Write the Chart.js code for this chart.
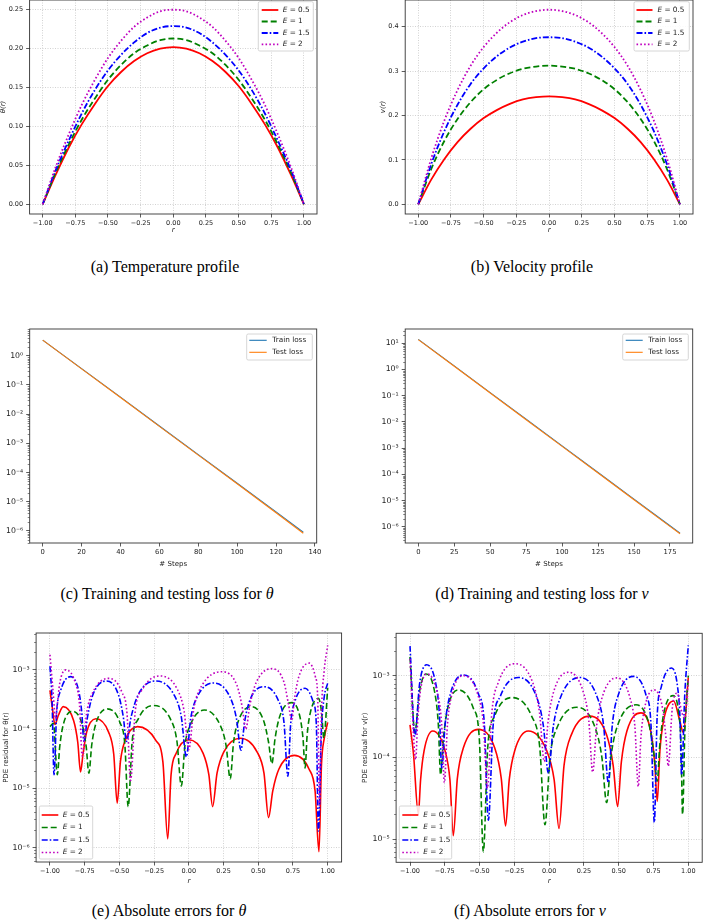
<!DOCTYPE html>
<html>
<head>
<meta charset="utf-8">
<script src="https://cdn.jsdelivr.net/npm/chart.js@4.4.1/dist/chart.umd.min.js"></script>
<style>
  body { margin: 0; background: #fff; width: 703px; height: 921px; position: relative; overflow: hidden; }
  canvas { position: absolute; }
  .cap { position: absolute; font-family: "Liberation Serif", "Times New Roman", serif; font-size: 16px; color: #000; white-space: nowrap; transform: translate(-50%, -50%); }
</style>
</head>
<body>
<canvas id="pa"></canvas>
<canvas id="pb"></canvas>
<canvas id="pc"></canvas>
<canvas id="pd"></canvas>
<canvas id="pe"></canvas>
<canvas id="pf"></canvas>
<div class="cap" style="left:165px;top:267px">(a) Temperature profile</div>
<div class="cap" style="left:532px;top:267px">(b) Velocity profile</div>
<div class="cap" style="left:167px;top:594px">(c) Training and testing loss for <i>θ</i></div>
<div class="cap" style="left:542px;top:594px">(d) Training and testing loss for <i>v</i></div>
<div class="cap" style="left:169px;top:911px">(e) Absolute errors for <i>θ</i></div>
<div class="cap" style="left:530px;top:911px">(f) Absolute errors for <i>v</i></div>
<script>
// ---- data ----
const rGrid = [-1, -0.9, -0.8, -0.7, -0.6, -0.5, -0.4, -0.3, -0.2, -0.1, 0, 0.1, 0.2, 0.3, 0.4, 0.5, 0.6, 0.7, 0.8, 0.9, 1];

const thetaE05 = [0, 0.038, 0.073, 0.103, 0.129, 0.152, 0.170, 0.184, 0.194, 0.200, 0.202, 0.200, 0.194, 0.184, 0.170, 0.152, 0.129, 0.103, 0.073, 0.038, 0];
const thetaE1 = [0, 0.041, 0.077, 0.109, 0.136, 0.160, 0.179, 0.194, 0.204, 0.211, 0.213, 0.211, 0.204, 0.194, 0.179, 0.160, 0.136, 0.109, 0.077, 0.041, 0];
const thetaE15 = [0, 0.044, 0.082, 0.117, 0.147, 0.172, 0.192, 0.208, 0.220, 0.227, 0.229, 0.227, 0.220, 0.208, 0.192, 0.172, 0.147, 0.117, 0.082, 0.044, 0];
const thetaE2 = [0, 0.048, 0.090, 0.128, 0.160, 0.188, 0.210, 0.228, 0.240, 0.248, 0.250, 0.248, 0.240, 0.228, 0.210, 0.188, 0.160, 0.128, 0.090, 0.048, 0];

const vE05 = [0, 0.056, 0.102, 0.140, 0.170, 0.194, 0.212, 0.226, 0.236, 0.241, 0.243, 0.241, 0.236, 0.226, 0.212, 0.194, 0.170, 0.140, 0.102, 0.056, 0];
const vE1 = [0, 0.080, 0.143, 0.192, 0.230, 0.259, 0.280, 0.295, 0.305, 0.310, 0.312, 0.310, 0.305, 0.295, 0.280, 0.259, 0.230, 0.192, 0.143, 0.080, 0];
const vE15 = [0, 0.091, 0.165, 0.224, 0.271, 0.306, 0.333, 0.353, 0.366, 0.374, 0.376, 0.374, 0.366, 0.353, 0.333, 0.306, 0.271, 0.224, 0.165, 0.091, 0];
const vE2 = [0, 0.104, 0.189, 0.257, 0.312, 0.354, 0.386, 0.410, 0.426, 0.435, 0.438, 0.435, 0.426, 0.410, 0.386, 0.354, 0.312, 0.257, 0.189, 0.104, 0];

const stepsTheta = [0, 20, 40, 60, 80, 100, 120, 134];
const trainLossTheta = [3.4, 0.36, 0.038, 3.9e-3, 4.1e-4, 4.3e-5, 4.5e-6, 9.0e-7];
const testLossTheta = [3.4, 0.355, 0.037, 3.8e-3, 3.95e-4, 4.1e-5, 4.2e-6, 8.3e-7];

const stepsV = [0, 25, 50, 75, 100, 125, 150, 175, 182];
const trainLossV = [14, 1.37, 0.131, 0.0127, 1.22e-3, 1.18e-4, 1.13e-5, 1.09e-6, 5.7e-7];
const testLossV = [13.8, 1.33, 0.127, 0.0121, 1.16e-3, 1.12e-4, 1.07e-5, 1.03e-6, 5.4e-7];

// [r, residual]
const errThetaE05 = [
  [-1, 4.5e-4], [-0.982, 2.2e-4], [-0.965, 1.2e-4], [-0.94, 1.7e-4], [-0.905, 2.4e-4], [-0.83, 1.4e-4], [-0.80, 6e-5], [-0.78, 1.9e-5],
  [-0.762, 3.8e-5], [-0.736, 8.9e-5], [-0.67, 1.5e-4], [-0.578, 8.9e-5], [-0.541, 3.8e-5], [-0.516, 5.6e-6],
  [-0.493, 2.8e-5], [-0.458, 6.5e-5], [-0.37, 1.1e-4], [-0.239, 6.5e-5], [-0.187, 2.8e-5], [-0.152, 1.4e-6],
  [-0.128, 1.7e-5], [-0.091, 3.9e-5], [0, 6.6e-5], [0.103, 3.9e-5], [0.144, 1.7e-5], [0.171, 4.9e-6],
  [0.203, 1.8e-5], [0.251, 4.1e-5], [0.37, 7e-5], [0.492, 4.1e-5], [0.541, 1.8e-5], [0.574, 3.2e-6],
  [0.604, 9e-6], [0.648, 2.1e-5], [0.76, 3.6e-5], [0.866, 2.1e-5], [0.909, 9e-6], [0.937, 8.5e-7],
  [0.955, 2.5e-5], [0.975, 7e-5], [1, 1.3e-4]
];
const errThetaE1 = [
  [-1, 1.1e-4], [-0.975, 1.25e-4], [-0.947, 1.7e-5],
  [-0.93, 5e-5], [-0.904, 1.2e-4], [-0.84, 2e-4], [-0.768, 1.2e-4], [-0.739, 5e-5], [-0.72, 1.8e-5],
  [-0.699, 5.5e-5], [-0.667, 1.3e-4], [-0.588, 2.2e-4], [-0.497, 1.3e-4], [-0.461, 5.5e-5], [-0.437, 4.9e-6],
  [-0.408, 6.3e-5], [-0.363, 1.5e-4], [-0.253, 2.5e-4], [-0.134, 1.5e-4], [-0.086, 6.3e-5], [-0.054, 1.1e-5],
  [-0.028, 5.3e-5], [0.012, 1.2e-4], [0.111, 2.1e-4], [0.223, 1.2e-4], [0.268, 5.3e-5], [0.298, 1.45e-5],
  [0.322, 6e-5], [0.358, 1.4e-4], [0.447, 2.4e-4], [0.538, 1.4e-4], [0.574, 6e-5], [0.598, 2.6e-5],
  [0.621, 7e-5], [0.655, 1.65e-4], [0.741, 2.8e-4], [0.799, 1.65e-4], [0.822, 7e-5], [0.837, 2.2e-5],
  [0.852, 8e-5], [0.875, 1.9e-4], [0.933, 3.3e-4], [0.956, 1.9e-4], [0.972, 7e-5], [1, 5e-4]
];
const errThetaE15 = [
  [-1, 1.15e-3], [-0.985, 3e-4], [-0.971, 1.7e-5],
  [-0.952, 1.9e-4], [-0.923, 4.5e-4], [-0.851, 7.7e-4], [-0.794, 4.5e-4], [-0.771, 1.9e-4], [-0.756, 6.2e-5],
  [-0.73, 1.6e-4], [-0.691, 3.8e-4], [-0.593, 6.5e-4], [-0.507, 3.8e-4], [-0.472, 1.6e-4], [-0.449, 6.2e-5],
  [-0.416, 1.6e-4], [-0.365, 3.8e-4], [-0.24, 6.5e-4], [-0.107, 3.8e-4], [-0.054, 1.6e-4], [-0.018, 3.4e-5],
  [0.013, 1.5e-4], [0.06, 3.5e-4], [0.178, 6e-4], [0.296, 3.5e-4], [0.343, 1.5e-4], [0.375, 4.4e-5],
  [0.401, 1.3e-4], [0.44, 3.1e-4], [0.538, 5.2e-4], [0.643, 3.1e-4], [0.685, 1.3e-4], [0.713, 1.6e-5],
  [0.733, 1.2e-4], [0.763, 2.9e-4], [0.837, 4.9e-4], [0.895, 2.9e-4], [0.918, 1.2e-4], [0.933, 1.9e-6],
  [0.955, 1e-4], [0.975, 3.5e-4], [1, 6e-4]
];
const errThetaE2 = [
  [-1, 1.8e-3], [-0.98, 5e-4], [-0.959, 1.5e-4],
  [-0.948, 2.5e-4], [-0.93, 5.9e-4], [-0.887, 1e-3], [-0.816, 5.9e-4], [-0.787, 2.5e-4], [-0.768, 3.5e-5],
  [-0.737, 1.8e-4], [-0.691, 4.2e-4], [-0.576, 7.2e-4], [-0.482, 4.2e-4], [-0.445, 1.8e-4], [-0.42, 1.35e-5],
  [-0.386, 2e-4], [-0.334, 4.7e-4], [-0.205, 7.9e-4], [-0.083, 4.7e-4], [-0.034, 2e-4], [-0.001, 4.5e-5],
  [0.037, 2.3e-4], [0.095, 5.5e-4], [0.238, 9.3e-4], [0.346, 5.5e-4], [0.385, 2.3e-4], [0.41, 1e-4],
  [0.44, 2.6e-4], [0.486, 6.2e-4], [0.6, 1.05e-3], [0.685, 6.2e-4], [0.718, 2.6e-4], [0.741, 1.4e-4],
  [0.761, 3.3e-4], [0.792, 7.7e-4], [0.868, 1.3e-3], [0.911, 7.7e-4], [0.928, 3.3e-4], [0.94, 5.2e-6],
  [0.955, 2e-4], [0.975, 1e-3], [1, 2.6e-3]
];

const errVE05 = [
  [-1, 2.5e-4], [-0.975, 1.1e-4], [-0.94, 2e-5],
  [-0.924, 5.3e-5], [-0.899, 1.2e-4], [-0.837, 2.1e-4], [-0.748, 1.2e-4], [-0.713, 5.3e-5], [-0.689, 1.1e-5],
  [-0.66, 5.5e-5], [-0.617, 1.3e-4], [-0.509, 2.2e-4], [-0.391, 1.3e-4], [-0.344, 5.5e-5], [-0.313, 1.45e-5],
  [-0.287, 5.3e-5], [-0.248, 1.2e-4], [-0.15, 2.1e-4], [-0.017, 1.2e-4], [0.036, 5.3e-5], [0.071, 1.35e-5],
  [0.107, 8e-5], [0.16, 1.9e-4], [0.293, 3.2e-4], [0.412, 1.9e-4], [0.46, 8e-5], [0.492, 2.5e-5],
  [0.519, 8.8e-5], [0.559, 2.1e-4], [0.66, 3.5e-4], [0.73, 2.1e-4], [0.758, 8.8e-5], [0.777, 2.9e-5],
  [0.796, 1.2e-4], [0.824, 2.9e-4], [0.895, 4.9e-4], [0.937, 2.9e-4], [0.965, 2e-4], [1, 9.5e-4]
];
const errVE1 = [
  [-1, 1.7e-3], [-0.965, 2e-4],
  [-0.933, 6.2e-4], [-0.885, 1.05e-3], [-0.822, 6.2e-4], [-0.797, 2.6e-4], [-0.78, 6.1e-5],
  [-0.76, 1.7e-4], [-0.729, 4e-4], [-0.653, 6.7e-4], [-0.545, 4e-4], [-0.502, 1.7e-4], [-0.473, 7e-6],
  [-0.441, 1.35e-4], [-0.392, 3.2e-4], [-0.27, 5.4e-4], [-0.126, 3.2e-4], [-0.068, 1.35e-4], [-0.03, 1.5e-5],
  [0.006, 1e-4], [0.061, 2.4e-4], [0.198, 4.1e-4], [0.327, 2.4e-4], [0.379, 1e-4], [0.413, 2.8e-5],
  [0.447, 1.1e-4], [0.497, 2.6e-4], [0.624, 4.4e-4], [0.716, 2.6e-4], [0.753, 1.1e-4], [0.777, 5.1e-5],
  [0.795, 1.4e-4], [0.823, 3.4e-4], [0.892, 5.7e-4], [0.932, 3.4e-4], [0.948, 1.4e-4], [0.959, 2e-5],
  [0.975, 2e-4], [1, 1e-3]
];
const errVE15 = [
  [-1, 2.3e-3], [-0.965, 1.8e-4],
  [-0.931, 8e-4], [-0.88, 1.36e-3], [-0.815, 8e-4], [-0.789, 3.4e-4], [-0.772, 7.4e-5],
  [-0.747, 2.6e-4], [-0.71, 6e-4], [-0.617, 1.02e-3], [-0.509, 6e-4], [-0.466, 2.6e-4], [-0.437, 1.7e-5],
  [-0.403, 2.4e-4], [-0.351, 5.6e-4], [-0.222, 9.5e-4], [-0.092, 5.6e-4], [-0.041, 2.4e-4], [-0.006, 6.4e-5],
  [0.03, 2.4e-4], [0.085, 5.6e-4], [0.221, 9.5e-4], [0.343, 5.6e-4], [0.392, 2.4e-4], [0.425, 4.9e-5],
  [0.454, 2.5e-4], [0.497, 5.8e-4], [0.605, 9.8e-4], [0.696, 5.8e-4], [0.732, 2.5e-4], [0.756, 1.6e-5],
  [0.776, 3.1e-4], [0.806, 7.3e-4], [0.88, 1.24e-3], [0.923, 7.3e-4], [0.94, 3.1e-4], [0.952, 6.1e-5],
  [0.975, 6e-4], [1, 2.35e-3]
];
const errVE2 = [
  [-1, 1.6e-3], [-0.959, 9.4e-5],
  [-0.946, 2.6e-4], [-0.927, 6.2e-4], [-0.88, 1.05e-3], [-0.804, 6.2e-4], [-0.773, 2.6e-4], [-0.753, 4.9e-5],
  [-0.731, 2.5e-4], [-0.699, 5.9e-4], [-0.617, 1e-3], [-0.513, 5.9e-4], [-0.472, 2.5e-4], [-0.444, 4.2e-5],
  [-0.412, 3.5e-4], [-0.365, 8.3e-4], [-0.246, 1.4e-3], [-0.119, 8.3e-4], [-0.069, 3.5e-4], [-0.035, 8.9e-5],
  [-0.007, 2.8e-4], [0.034, 6.5e-4], [0.138, 1.1e-3], [0.243, 6.5e-4], [0.285, 2.8e-4], [0.313, 6.6e-5],
  [0.341, 2.4e-4], [0.382, 5.5e-4], [0.485, 9.4e-4], [0.579, 5.5e-4], [0.616, 2.4e-4], [0.641, 4.4e-5],
  [0.659, 1.7e-4], [0.686, 4e-4], [0.753, 6.7e-4], [0.815, 4e-4], [0.84, 1.7e-4], [0.856, 7.8e-5],
  [0.885, 4e-4], [0.92, 6.1e-4], [0.955, 3.5e-4], [0.975, 3e-4], [1, 9e-4]
];

// tick positions
const rTicks = [-1, -0.75, -0.5, -0.25, 0, 0.25, 0.5, 0.75, 1];
const thetaTicks = [0, 0.05, 0.1, 0.15, 0.2, 0.25];
const vTicks = [0, 0.1, 0.2, 0.3, 0.4];
const stepTicksTheta = [0, 20, 40, 60, 80, 100, 120, 140];
const stepTicksV = [0, 25, 50, 75, 100, 125, 150, 175];
const lossExpTheta = [-6, -5, -4, -3, -2, -1, 0];
const lossExpV = [-6, -5, -4, -3, -2, -1, 0, 1];
const errExpTheta = [-6, -5, -4, -3];
const errExpV = [-5, -4, -3];

const eLabels = ["E = 0.5", "E = 1", "E = 1.5", "E = 2"];

// ---- styles ----
Chart.defaults.font.family = '"DejaVu Sans", sans-serif';
Chart.defaults.font.size = 6.5;
Chart.defaults.color = "#222";

const eColors = ["#ff0000", "#008000", "#0000ff", "#bf00bf"];
const eDashes = [[], [6, 3], [6, 2, 1.6, 2], [1.6, 2.2]];
const TRAIN = "#1f77b4";
const TEST = "#ff7f0e";

const SUP = { "-": "\u207b", "0": "\u2070", "1": "\u00b9", "2": "\u00b2", "3": "\u00b3", "4": "\u2074", "5": "\u2075", "6": "\u2076", "7": "\u2077", "8": "\u2078", "9": "\u2079" };

function pow10Label(v) {
  const e = String(Math.round(Math.log10(v)));
  return "10" + e.split("").map(c => SUP[c]).join("");
}

function fixedLabel(dec) {
  return v => {
    const s = Math.abs(v).toFixed(dec);
    return v < 0 ? "\u2212" + s : s;
  };
}

function fixedTicks(values) {
  return scale => {
    scale.ticks = values.map(v => ({ value: v, major: true }));
  };
}

function logTicks(exps) {
  return scale => {
    const t = [];
    for (let e = exps[0] - 1; e <= exps[exps.length - 1]; e++) {
      const base = Math.pow(10, e);
      if (exps.includes(e)) t.push({ value: base, major: true });
      for (let m = 2; m <= 9; m++) {
        const v = m * base;
        if (v >= scale.min && v <= scale.max) t.push({ value: v, major: false });
      }
    }
    t.sort((a, b) => a.value - b.value);
    scale.ticks = t;
  };
}

function gridStyle(showGrid) {
  return {
    color: c => (showGrid && c.tick && c.tick.major) ? "#c6c6c6" : "rgba(0,0,0,0)",
    lineWidth: 0.8,
    tickColor: c => (c.tick && c.tick.major) ? "#333" : "rgba(0,0,0,0)",
    tickLength: 3.5,
    tickWidth: 0.8
  };
}

function zeroPad(s) {
  s.paddingLeft = 0;
  s.paddingRight = 0;
  s.paddingTop = 0;
  s.paddingBottom = 0;
}

const framePlugin = {
  id: "frame",
  afterDraw(chart) {
    const { ctx, chartArea: a } = chart;
    ctx.save();
    // minor ticks of log axes
    const ys = chart.scales.y;
    if (ys.type === "logarithmic") {
      ctx.strokeStyle = "#333";
      ctx.lineWidth = 0.6;
      ys.ticks.forEach(t => {
        if (t.major) return;
        const py = Math.round(ys.getPixelForValue(t.value)) + 0.5;
        ctx.beginPath();
        ctx.moveTo(a.left - 2, py);
        ctx.lineTo(a.left, py);
        ctx.stroke();
      });
    }
    ctx.strokeStyle = "#333";
    ctx.lineWidth = 0.9;
    ctx.strokeRect(a.left, a.top, a.right - a.left, a.bottom - a.top);
    ctx.restore();
  }
};

const legendPlugin = {
  id: "mplLegend",
  afterDatasetsDraw(chart, args, o) {
    if (!o || !o.box) return;
    const ctx = chart.ctx;
    const bx = o.box[0] - o.ox, by = o.box[1] - o.oy;
    ctx.save();
    ctx.beginPath();
    if (ctx.roundRect) ctx.roundRect(bx, by, o.box[2], o.box[3], 1.5);
    else ctx.rect(bx, by, o.box[2], o.box[3]);
    ctx.fillStyle = "rgba(255,255,255,0.85)";
    ctx.fill();
    ctx.strokeStyle = "#cccccc";
    ctx.lineWidth = 0.8;
    ctx.stroke();
    chart.data.datasets.forEach((ds, i) => {
      const ry = o.rows[i] - o.oy;
      ctx.beginPath();
      ctx.setLineDash(ds.borderDash || []);
      ctx.strokeStyle = ds.borderColor;
      ctx.lineWidth = ds.borderWidth;
      ctx.moveTo(o.line[0] - o.ox, ry);
      ctx.lineTo(o.line[1] - o.ox, ry);
      ctx.stroke();
      ctx.setLineDash([]);
      ctx.fillStyle = "#222";
      ctx.textBaseline = "middle";
      let tx = o.textX - o.ox;
      const font = o.fontSize + 'px "DejaVu Sans"';
      if (ds.label.startsWith("E")) {
        ctx.font = "italic " + font;
        ctx.fillText("E", tx, ry);
        tx += ctx.measureText("E").width;
        ctx.font = font;
        ctx.fillText(ds.label.slice(1), tx, ry);
      } else {
        ctx.font = font;
        ctx.fillText(ds.label, tx, ry);
      }
    });
    ctx.restore();
  }
};

// later series are drawn on top, as in the original plot
function eCurve(i, points, width) {
  return {
    label: eLabels[i],
    data: points,
    order: -i,
    borderColor: eColors[i],
    borderWidth: width,
    borderDash: eDashes[i],
    pointRadius: 0,
    cubicInterpolationMode: "monotone",
    fill: false
  };
}

function profilePoints(values) {
  return rGrid.map((r, k) => ({ x: r, y: values[k] }));
}

function pairPoints(pairs) {
  return pairs.map(([x, y]) => ({ x, y }));
}

function lossCurve(label, color, steps, values, order) {
  return {
    label,
    data: steps.map((s, k) => ({ x: s, y: values[k] })),
    order,
    borderColor: color,
    borderWidth: 1.1,
    pointRadius: 0,
    tension: 0,
    fill: false
  };
}

function panel(id, geo, area, datasets, xs, ys, legend) {
  const cv = document.getElementById(id);
  cv.width = geo.w;
  cv.height = geo.h;
  cv.style.left = geo.x + "px";
  cv.style.top = geo.y + "px";
  cv.style.width = geo.w + "px";
  cv.style.height = geo.h + "px";
  const xh = geo.y + geo.h - area.b;
  const yw = area.l - geo.x;
  return new Chart(cv, {
    type: "line",
    data: { datasets },
    options: {
      responsive: false,
      animation: false,
      devicePixelRatio: 1,
      layout: { padding: { left: 0, top: area.t - geo.y, right: geo.x + geo.w - area.r, bottom: 0 } },
      plugins: {
        legend: { display: false },
        tooltip: { enabled: false },
        mplLegend: Object.assign({ ox: geo.x, oy: geo.y }, legend)
      },
      scales: {
        x: Object.assign({ type: "linear", position: "bottom", afterFit: s => { s.height = xh; zeroPad(s); } }, xs),
        y: Object.assign({ position: "left", afterFit: s => { s.width = yw; zeroPad(s); } }, ys)
      }
    },
    plugins: [framePlugin, legendPlugin]
  });
}

const tickFont = { size: 6.5 };

function rAxis() {
  return {
    min: -1.1, max: 1.1,
    afterBuildTicks: fixedTicks(rTicks),
    ticks: { callback: fixedLabel(2), autoSkip: false, maxRotation: 0, padding: 1.5, font: tickFont },
    grid: gridStyle(true),
    border: { display: false, dash: [1, 1.5] },
    title: { display: true, text: "r", font: { size: 7, style: "italic" }, padding: 0 }
  };
}

function linY(min, max, ticks, dec, label) {
  return {
    type: "linear", min, max,
    afterBuildTicks: fixedTicks(ticks),
    ticks: { callback: fixedLabel(dec), autoSkip: false, padding: 3, font: tickFont },
    grid: gridStyle(true),
    border: { display: false, dash: [1, 1.5] },
    title: { display: true, text: label, font: { size: 7, style: "italic" }, padding: 0 }
  };
}

function logY(min, max, exps, showGrid, label) {
  return {
    type: "logarithmic", min, max,
    afterBuildTicks: logTicks(exps),
    ticks: {
      callback: (v, i, t) => (t[i] && t[i].major) ? pow10Label(v) : "",
      autoSkip: false, padding: 3, font: { size: 7.8 }
    },
    grid: gridStyle(showGrid),
    border: { display: false, dash: [1, 1.5] },
    title: { display: !!label, text: label || "", font: { size: 7 }, padding: 0 }
  };
}

function stepsAxis(min, max, ticks) {
  return {
    min, max,
    afterBuildTicks: fixedTicks(ticks),
    ticks: { callback: v => String(v), autoSkip: false, maxRotation: 0, padding: 1.5, font: { size: 6.8 } },
    grid: gridStyle(false),
    border: { display: false },
    title: { display: true, text: "# Steps", font: { size: 7 }, padding: 0 }
  };
}

const eLegendA = { box: [258.3, 1.7, 55, 49.3], line: [261.7, 278.3], textX: 282.7, rows: [10, 21.5, 33, 44.3], fontSize: 7.3 };
const eLegendB = { box: [634, 1.7, 55.3, 49.3], line: [636.5, 652.5], textX: 657.5, rows: [10, 21.5, 33, 44.3], fontSize: 7.3 };
const lossLegendC = { box: [246.7, 334, 65.6, 26], line: [249.3, 266.7], textX: 272.3, rows: [340.3, 352.3], fontSize: 7.3 };
const lossLegendD = { box: [622.7, 334, 65.6, 26], line: [625.7, 642.7], textX: 648.3, rows: [340.3, 352.3], fontSize: 7.3 };
const eLegendE = { box: [39.3, 806, 53.4, 53], line: [41.7, 58.3], textX: 62.7, rows: [815, 827.5, 840, 852.5], fontSize: 7.3 };
const eLegendF = { box: [399.3, 806, 52.4, 53], line: [402.3, 418.3], textX: 423.3, rows: [815, 827.5, 840, 852.5], fontSize: 7.3 };

// (a) temperature profile
panel("pa", { x: -1, y: 0, w: 336, h: 234 }, { l: 29.6, t: 0, r: 317, b: 214 },
  [thetaE05, thetaE1, thetaE15, thetaE2].map((v, i) => eCurve(i, profilePoints(v), 1.8)),
  rAxis(), linY(-0.0125, 0.2625, thetaTicks, 2, "\u03b8(r)"), eLegendA);

// (b) velocity profile
panel("pb", { x: 379, y: 0, w: 324, h: 234 }, { l: 405.2, t: 0, r: 693, b: 214 },
  [vE05, vE1, vE15, vE2].map((v, i) => eCurve(i, profilePoints(v), 1.8)),
  rAxis(), linY(-0.0219, 0.4599, vTicks, 1, "v(r)"), eLegendB);

// (c) loss for theta
panel("pc", { x: 0, y: 320, w: 335, h: 248 }, { l: 29.7, t: 329, r: 316.7, b: 543 },
  [lossCurve("Train loss", TRAIN, stepsTheta, trainLossTheta, 1), lossCurve("Test loss", TEST, stepsTheta, testLossTheta, 0)],
  stepsAxis(-6.7, 140.9, stepTicksTheta), logY(3.85e-7, 8.2, lossExpTheta, false, ""), lossLegendC);

// (d) loss for v
panel("pd", { x: 350, y: 320, w: 353, h: 248 }, { l: 405.2, t: 329, r: 692.7, b: 543 },
  [lossCurve("Train loss", TRAIN, stepsV, trainLossV, 1), lossCurve("Test loss", TEST, stepsV, testLossV, 0)],
  stepsAxis(-9.1, 190.8, stepTicksV), logY(2.4e-7, 35, lossExpV, false, ""), lossLegendD);

// (e) residual for theta
panel("pe", { x: 2, y: 625, w: 345, h: 260 }, { l: 36.1, t: 633, r: 341.6, b: 862 },
  [errThetaE05, errThetaE1, errThetaE15, errThetaE2].map((p, i) => eCurve(i, pairPoints(p), 1.6)),
  rAxis(), logY(5.7e-7, 4.2e-3, errExpTheta, true, "PDE residual for \u03b8(r)"), eLegendE);

// (f) residual for v
panel("pf", { x: 361, y: 625, w: 342, h: 260 }, { l: 396.1, t: 633.3, r: 702.2, b: 862.3 },
  [errVE05, errVE1, errVE15, errVE2].map((p, i) => eCurve(i, pairPoints(p), 1.6)),
  rAxis(), logY(5.2e-6, 3.3e-3, errExpV, true, "PDE residual for v(r)"), eLegendF);
</script>
</body>
</html>
